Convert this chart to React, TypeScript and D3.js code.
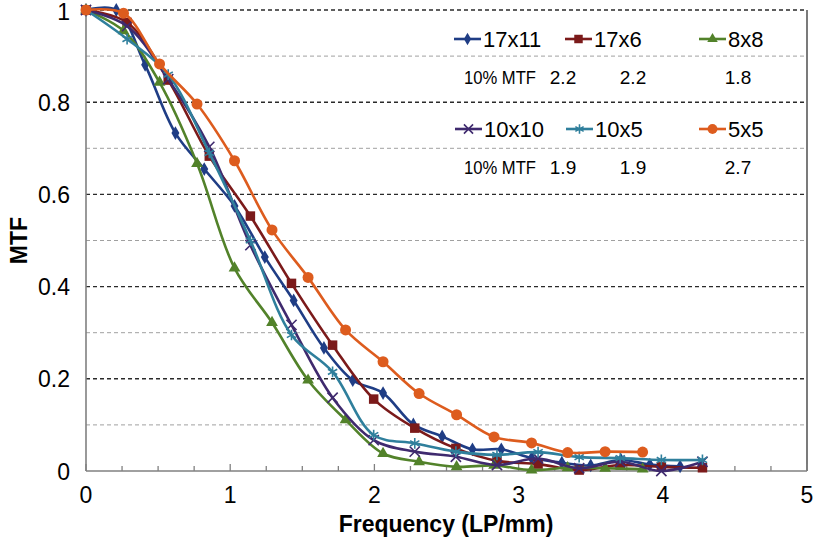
import React from "react";
import * as d3 from "d3";

// ---- data ----
const freqA = [0, 0.21, 0.41, 0.62, 0.82, 1.03, 1.24, 1.44, 1.65, 1.85, 2.06, 2.27, 2.47, 2.68, 2.88, 3.09, 3.3, 3.5, 3.71, 3.91, 4.12];
const freqB = [0, 0.285, 0.57, 0.855, 1.14, 1.425, 1.71, 1.995, 2.28, 2.565, 2.85, 3.135, 3.42, 3.705, 3.99, 4.275];
const freqC = [0, 0.26, 0.51, 0.77, 1.03, 1.29, 1.54, 1.8, 2.06, 2.31, 2.57, 2.83, 3.09, 3.34, 3.6, 3.86];

const mtf17x11 = [1.0, 1.0, 0.881, 0.733, 0.655, 0.575, 0.464, 0.37, 0.267, 0.197, 0.169, 0.101, 0.075, 0.047, 0.047, 0.028, 0.018, 0.012, 0.024, 0.014, 0.01];
const mtf17x6 = [1.0, 0.973, 0.848, 0.683, 0.553, 0.407, 0.273, 0.156, 0.093, 0.049, 0.022, 0.015, 0.002, 0.013, 0.009, 0.007];
const mtf8x8 = [1.0, 0.955, 0.843, 0.667, 0.44, 0.322, 0.197, 0.111, 0.038, 0.02, 0.009, 0.012, 0.002, 0.007, 0.006, 0.004];
const mtf10x10 = [1.0, 0.965, 0.85, 0.703, 0.49, 0.317, 0.159, 0.067, 0.042, 0.031, 0.013, 0.027, 0.006, 0.02, 0.0, 0.02];
const mtf10x5 = [1.0, 0.937, 0.86, 0.69, 0.5, 0.295, 0.215, 0.078, 0.06, 0.042, 0.035, 0.041, 0.03, 0.028, 0.024, 0.024];
const mtf5x5 = [1.0, 0.993, 0.883, 0.796, 0.673, 0.523, 0.42, 0.306, 0.237, 0.168, 0.122, 0.074, 0.061, 0.04, 0.042, 0.041];

const seriesNames = ["17x11", "17x6", "8x8", "10x10", "10x5", "5x5"];
const mtfRow1 = ["2.2", "2.2", "1.8"];
const mtfRow2 = ["1.9", "1.9", "2.7"];
const xTicks = [0, 1, 2, 3, 4, 5];
const yTicks = [0, 0.2, 0.4, 0.6, 0.8, 1];

const series = [
  { name: seriesNames[0], x: freqA, y: mtf17x11, color: "#1f3d85", marker: "diamond" },
  { name: seriesNames[1], x: freqB, y: mtf17x6, color: "#7b1a1a", marker: "square" },
  { name: seriesNames[2], x: freqC, y: mtf8x8, color: "#52822a", marker: "triangle" },
  { name: seriesNames[3], x: freqB, y: mtf10x10, color: "#3f2a6e", marker: "times" },
  { name: seriesNames[4], x: freqB, y: mtf10x5, color: "#2f7f9c", marker: "asterisk" },
  { name: seriesNames[5], x: freqC, y: mtf5x5, color: "#dd5c1e", marker: "circle" },
];

const W = 817, H = 543;
const X0 = 86, X1 = 807, Y0 = 10, Y1 = 471;
const font = "Arial, 'Liberation Sans', Helvetica, sans-serif";

function Marker({ type, color, cx, cy, s = 1 }: { type: string; color: string; cx: number; cy: number; s?: number }) {
  const t = `translate(${cx},${cy})`;
  if (type === "diamond") return <path transform={t} d={d3.symbol(d3.symbolDiamond, 55 * s)()!} fill={color} />;
  if (type === "square") return <path transform={t} d={d3.symbol(d3.symbolSquare, 90 * s)()!} fill={color} />;
  if (type === "triangle") return <path transform={t} d={d3.symbol(d3.symbolTriangle, 60 * s)()!} fill={color} />;
  if (type === "circle") return <path transform={t} d={d3.symbol(d3.symbolCircle, 95 * s)()!} fill={color} />;
  if (type === "times") return <path transform={t} d={d3.symbol(d3.symbolTimes, 70 * s)()!} fill="none" stroke={color} strokeWidth={1.6} />;
  return <path transform={t} d={d3.symbol(d3.symbolAsterisk, 80 * s)()!} fill="none" stroke={color} strokeWidth={1.6} />;
}

export default function App() {
  const x = d3.scaleLinear().domain([0, 5]).range([X0, X1]);
  const y = d3.scaleLinear().domain([0, 1]).range([Y1, Y0]);
  const line = d3
    .line<[number, number]>()
    .x((d) => x(d[0]))
    .y((d) => y(d[1]))
    .curve(d3.curveCatmullRom.alpha(0.5));

  const minorY = d3.range(1, 10, 2).map((v) => v / 10);
  const minorX = d3.range(0, 5.01, 0.25).filter((v) => Math.abs(v - Math.round(v)) > 1e-6);

  const legendRows = [
    { y: 39, items: series.slice(0, 3), mtf: mtfRow1, mtfY: 77, textX: [483, 594, 728] },
    { y: 129, items: series.slice(3, 6), mtf: mtfRow2, mtfY: 167, textX: [484, 595, 728] },
  ];
  const mtfValX = [563, 633, 738];

  return (
    <div style={{ position: "absolute", left: 0, top: 0 }}>
      <svg width={W} height={H} style={{ display: "block", background: "#fff" }} fontFamily={font}>
        {/* minor gridlines */}
        {minorY.map((v) => (
          <line key={"mn" + v} x1={X0} x2={X1} y1={y(v)} y2={y(v)} stroke="#a0a0a0" strokeWidth={1} strokeDasharray="4,3" />
        ))}
        {/* major gridlines */}
        {yTicks.filter((v) => v > 0).map((v) => (
          <line key={"mj" + v} x1={X0} x2={X1} y1={y(v)} y2={y(v)} stroke="#2a2a2a" strokeWidth={1.4} strokeDasharray="4,3" />
        ))}
        {/* right border */}
        <line x1={X1} x2={X1} y1={Y0} y2={Y1} stroke="#333" strokeWidth={1.3} />
        {/* axes */}
        <line x1={X0} x2={X0} y1={Y0} y2={Y1} stroke="#808080" strokeWidth={1.6} />
        <line x1={X0} x2={X1} y1={Y1} y2={Y1} stroke="#808080" strokeWidth={1.6} />
        {minorX.map((v) => (
          <line key={"mt" + v} x1={x(v)} x2={x(v)} y1={Y1} y2={Y1 - 5} stroke="#808080" strokeWidth={1.3} />
        ))}
        {xTicks.map((v) => (
          <line key={"xt" + v} x1={x(v)} x2={x(v)} y1={Y1} y2={Y1 - 7} stroke="#808080" strokeWidth={1.3} />
        ))}
        {/* tick labels */}
        {xTicks.map((v) => (
          <text key={"xl" + v} x={x(v)} y={503} textAnchor="middle" fontSize={23} fill="#000">
            {String(v)}
          </text>
        ))}
        {yTicks.map((v) => (
          <text key={"yl" + v} x={70} y={Math.max(y(v) + 8.5, 20)} textAnchor="end" fontSize={23} fill="#000">
            {String(v)}
          </text>
        ))}
        {/* axis titles */}
        <text x={446} y={532} textAnchor="middle" fontSize={23} fontWeight="bold" fill="#000">
          Frequency (LP/mm)
        </text>
        <text transform={`translate(27,${(Y0 + Y1) / 2}) rotate(-90)`} textAnchor="middle" fontSize={23} fontWeight="bold" fill="#000">
          MTF
        </text>
        {/* series */}
        {series.map((s) => {
          const pts = s.x.map((fx, i) => [fx, s.y[i]] as [number, number]);
          return (
            <g key={s.name}>
              <path d={line(pts)!} fill="none" stroke={s.color} strokeWidth={2.6} />
              {pts.map((p, i) => (
                <Marker key={i} type={s.marker} color={s.color} cx={x(p[0])} cy={y(p[1])} />
              ))}
            </g>
          );
        })}
        {/* legend */}
        {legendRows.map((row, r) => (
          <g key={"lr" + r}>
            {row.items.map((s, i) => {
              const tx = row.textX[i];
              return (
                <g key={s.name}>
                  <line x1={tx - 29} x2={tx - 2} y1={row.y} y2={row.y} stroke={s.color} strokeWidth={2.6} />
                  <Marker type={s.marker} color={s.color} cx={tx - 15.5} cy={row.y} s={0.8} />
                  <text x={tx} y={row.y + 8} fontSize={22} fill="#000">
                    {s.name}
                  </text>
                </g>
              );
            })}
            <text x={464} y={row.mtfY + 7} fontSize={19} fill="#000" textLength={72} lengthAdjust="spacingAndGlyphs">
              10% MTF
            </text>
            {row.mtf.map((m, i) => (
              <text key={i} x={mtfValX[i]} y={row.mtfY + 7} fontSize={19} textAnchor="middle" fill="#000">
                {m}
              </text>
            ))}
          </g>
        ))}
      </svg>
    </div>
  );
}
